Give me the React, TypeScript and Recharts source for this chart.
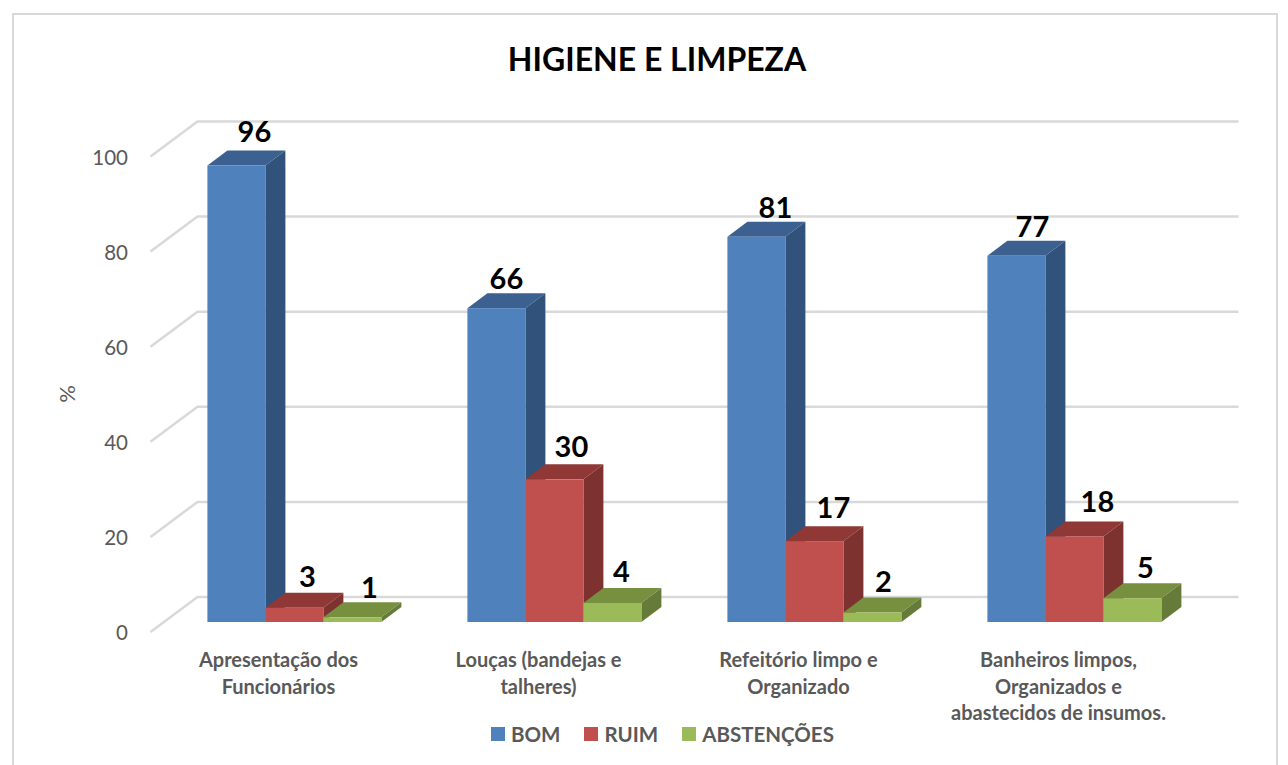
import { Bar, BarChart, LabelList, Legend, ReferenceLine, XAxis, YAxis } from 'recharts'

const categories = [
  'Apresentação dos\nFuncionários',
  'Louças (bandejas e\ntalheres)',
  'Refeitório limpo e\nOrganizado',
  'Banheiros limpos,\nOrganizados e\nabastecidos de insumos.',
]
const bom = [96, 66, 81, 77]
const ruim = [3, 30, 17, 18]
const abstencoes = [1, 4, 2, 5]
const yTicks = [0, 20, 40, 60, 80, 100]

const data = categories.map((name, i) => ({
  name,
  bom: bom[i],
  ruim: ruim[i],
  abstencoes: abstencoes[i],
}))

// labels were moved by hand in the original, so each one has its own nudge
const bomNudge = [[18, -35], [10, -31], [19, -30], [16, -30]]
const ruimNudge = [[13, -32], [17, -34], [19, -35], [23, -36]]
const abstNudge = [[17, -31], [9, -32], [11, -32], [13, -32]]

const FONT = 'Lato, sans-serif'
const GREY = '#595959'
const DEPTH_X = 20
const DEPTH_Y = 15

function box3d(front: string, top: string, side: string) {
  return (props: any) => {
    const { x, y, width, height } = props
    const r = x + width
    const b = y + height
    return (
      <g>
        <path d={`M${x} ${y}l${DEPTH_X} ${-DEPTH_Y}h${width}l${-DEPTH_X} ${DEPTH_Y}z`} fill={top} />
        <path d={`M${r} ${y}l${DEPTH_X} ${-DEPTH_Y}v${height}l${-DEPTH_X} ${DEPTH_Y}z`} fill={side} />
        <rect x={x} y={y} width={width} height={b - y} fill={front} />
      </g>
    )
  }
}

function valueLabel(nudge: number[][]) {
  return (props: any) => {
    const { x, y, width, value, index } = props
    const [dx, dy] = nudge[index]
    return (
      <text
        x={x + width / 2 + dx}
        y={y + dy}
        textAnchor="middle"
        dominantBaseline="central"
        fontFamily={FONT}
        fontWeight={700}
        fontSize={29}
        fill="#000"
      >
        {value}
      </text>
    )
  }
}

// back wall line with the diagonal coming out to the axis
function WallLine(props: any) {
  const { x1, x2, y1 } = props
  return (
    <path
      d={`M${x1 - 14} ${y1 + 10}L${x1 + 33} ${y1 - 25}H${x2 + 34}`}
      fill="none"
      stroke="#d9d9d9"
      strokeWidth={2.5}
    />
  )
}

function YTick({ y, payload }: any) {
  return (
    <text x={128} y={y + 10} textAnchor="end" dominantBaseline="central" fontFamily={FONT} fontSize={20.5} fill={GREY}>
      {payload.value}
    </text>
  )
}

function XTick({ x, payload }: any) {
  return (
    <text x={x - 16} textAnchor="middle" fontFamily={FONT} fontWeight={700} fontSize={20} fill={GREY}>
      {String(payload.value)
        .split('\n')
        .map((line, i) => (
          <tspan key={i} x={x - 16} y={659 + i * 26.5} dominantBaseline="central">
            {line}
          </tspan>
        ))}
    </text>
  )
}

function LegendRow({ payload }: any) {
  return (
    <div style={{ display: 'flex', fontFamily: FONT, fontWeight: 700, fontSize: 20.5, color: GREY, lineHeight: '28px' }}>
      {(payload || []).map((item: any) => (
        <div key={item.value} style={{ display: 'flex', alignItems: 'center', marginRight: 24 }}>
          <span style={{ width: 14, height: 14, background: item.color, marginRight: 6 }} />
          {item.value}
        </div>
      ))}
    </div>
  )
}

export default function App() {
  return (
    <div style={{ position: 'absolute', left: 0, top: 0, width: 1288, height: 765, background: '#fff', overflow: 'hidden' }}>
      <div
        style={{
          position: 'absolute',
          left: 12,
          top: 13,
          width: 1262,
          height: 800,
          border: '2px solid #d9d9d9',
        }}
      />
      <div
        style={{
          position: 'absolute',
          left: 0,
          top: 38,
          width: 1314,
          textAlign: 'center',
          fontFamily: FONT,
          fontWeight: 700,
          fontSize: 32,
          lineHeight: '42px',
          color: '#000',
        }}
      >
        HIGIENE E LIMPEZA
      </div>
      <div
        style={{
          position: 'absolute',
          left: 57,
          top: 381,
          width: 20,
          height: 26,
          lineHeight: '26px',
          textAlign: 'center',
          transform: 'rotate(-90deg)',
          fontFamily: FONT,
          fontSize: 22,
          color: GREY,
        }}
      >
        %
      </div>
      <BarChart
        width={1288}
        height={765}
        data={data}
        margin={{ top: 146.5, right: 83.5, bottom: 0, left: 164.5 }}
        barCategoryGap="16.5%"
        barGap={0}
        style={{ position: 'absolute', left: 0, top: 0 }}
      >
        {yTicks.map((t) => (
          <ReferenceLine key={t} y={t} shape={WallLine} ifOverflow="visible" zIndex={-100} />
        ))}
        <XAxis dataKey="name" axisLine={false} tickLine={false} tick={XTick} interval={0} height={115} />
        <YAxis domain={[0, 100]} ticks={yTicks} axisLine={false} tickLine={false} tick={YTick} mirror />
        <Bar dataKey="bom" name="BOM" fill="#4f81bd" shape={box3d('#4f81bd', '#3c6191', '#31527b')} isAnimationActive={false}>
          <LabelList dataKey="bom" content={valueLabel(bomNudge)} />
        </Bar>
        <Bar dataKey="ruim" name="RUIM" fill="#c0504d" shape={box3d('#c0504d', '#8f3836', '#7d322f')} isAnimationActive={false}>
          <LabelList dataKey="ruim" content={valueLabel(ruimNudge)} />
        </Bar>
        <Bar dataKey="abstencoes" name="ABSTENÇÕES" fill="#9bbb59" shape={box3d('#9bbb59', '#76903f', '#667a3a')} isAnimationActive={false}>
          <LabelList dataKey="abstencoes" content={valueLabel(abstNudge)} />
        </Bar>
        <Legend
          content={LegendRow}
          itemSorter={null}
          wrapperStyle={{ position: 'absolute', left: 491, top: 720, width: 500, bottom: 'auto' }}
        />
      </BarChart>
    </div>
  )
}
